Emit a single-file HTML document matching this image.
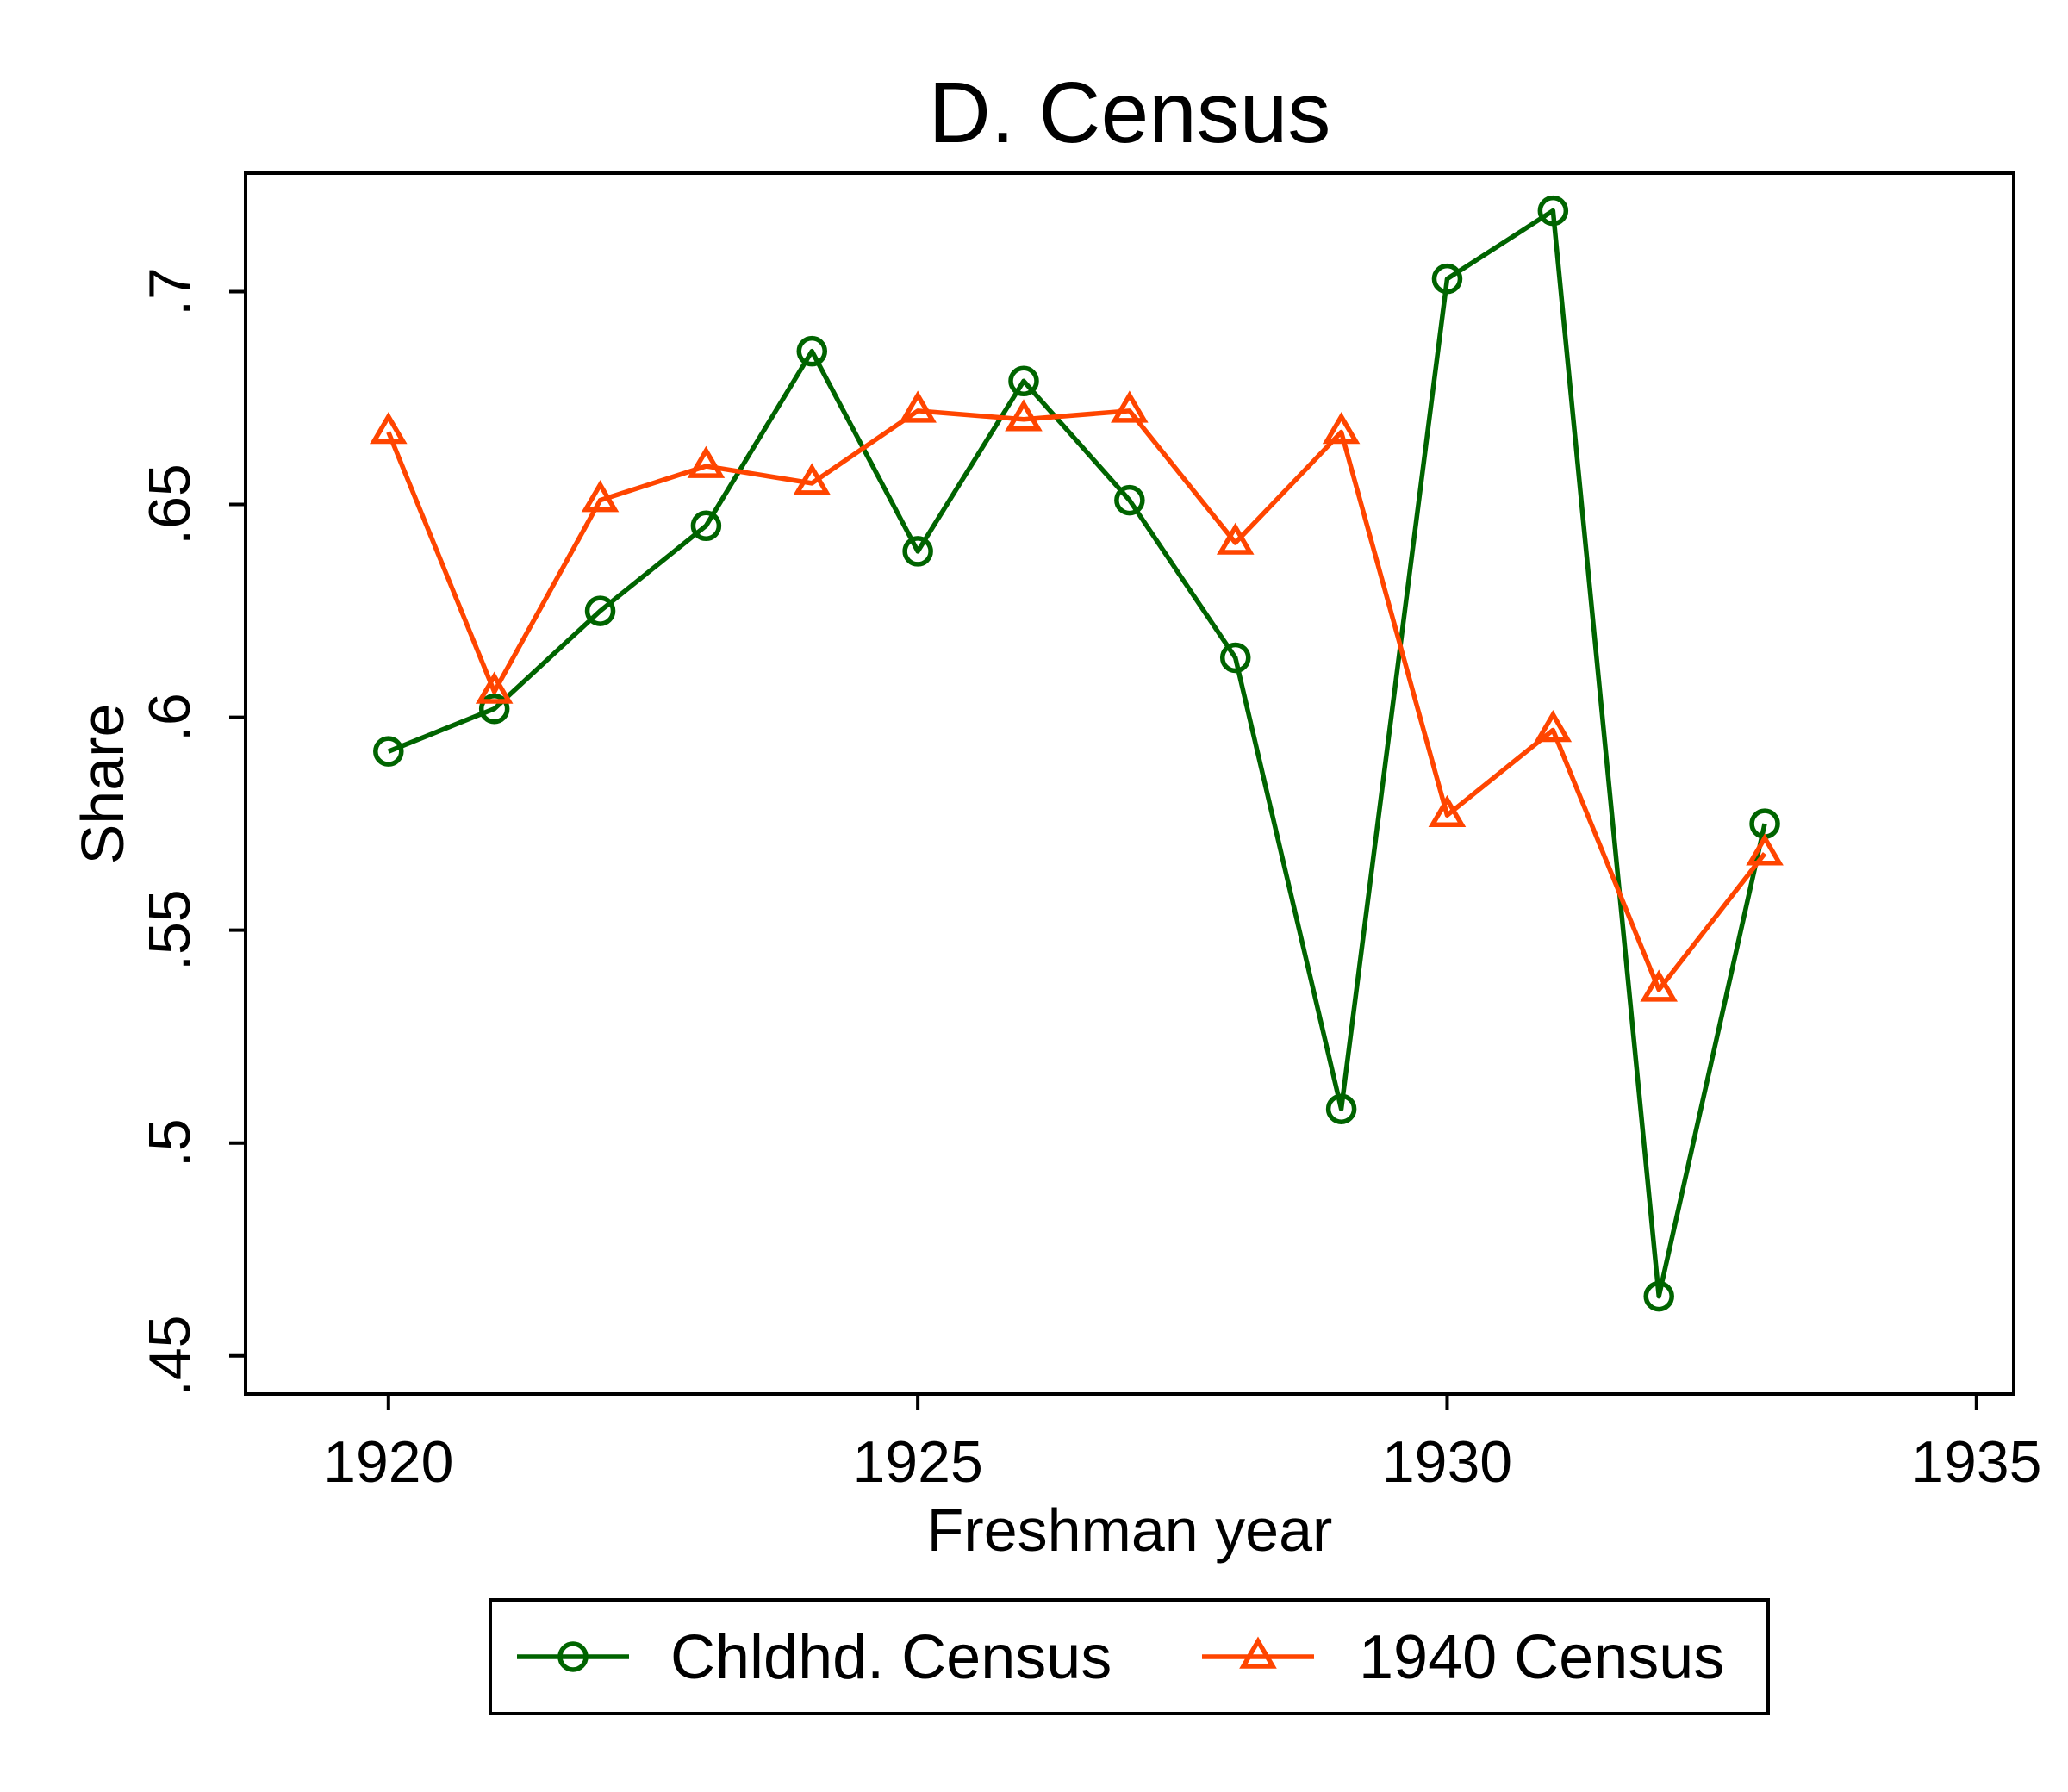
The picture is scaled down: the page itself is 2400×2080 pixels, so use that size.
<!DOCTYPE html>
<html><head><meta charset="utf-8"><style>body{margin:0;background:#fff}svg{display:block}</style></head>
<body>
<svg id="chart" width="2400" height="2080" viewBox="0 0 2400 2080" xmlns="http://www.w3.org/2000/svg" font-family="Liberation Sans, Arial, sans-serif">
<rect width="2400" height="2080" fill="#fff"/>
<text x="1311" y="165" font-size="100" text-anchor="middle">D. Census</text>
<rect x="285" y="201" width="2052" height="1417" fill="none" stroke="#000" stroke-width="4"/>
<g id="axes"></g>
<g id="series"></g>
<text x="1311" y="1800" font-size="70" text-anchor="middle">Freshman year</text>
<text transform="translate(143,910) rotate(-90)" font-size="70" text-anchor="middle">Share</text>
<g>
<rect x="569" y="1857" width="1483" height="132" fill="#fff" stroke="#000" stroke-width="4"/>
<line x1="600" y1="1923" x2="730" y2="1923" stroke="#006400" stroke-width="5.5"/>
<circle cx="665" cy="1923" r="15" fill="none" stroke="#006400" stroke-width="5.5"/>
<text x="778" y="1948" font-size="72">Chldhd. Census</text>
<line x1="1395" y1="1923" x2="1525" y2="1923" stroke="#ff4500" stroke-width="5.5"/>
<polygon points="1460,1905 1477,1934 1443,1934" fill="none" stroke="#ff4500" stroke-width="5.5"/>
<text x="1577" y="1948" font-size="72">1940 Census</text>
</g>
</svg>
<script>
const years=[1920,1921,1922,1923,1924,1925,1926,1927,1928,1929,1930,1931,1932,1933];
const childhood=[.592,.602,.625,.645,.686,.639,.679,.651,.614,.508,.703,.719,.464,.575];
const census1940=[.667,.606,.651,.659,.655,.672,.670,.672,.641,.667,.577,.597,.536,.568];
const xTicks=[1920,1925,1930,1935];
const yTicks=[.45,.5,.55,.6,.65,.7];
const yTickLabels=[".45",".5",".55",".6",".65",".7"];
const NS="http://www.w3.org/2000/svg";
const xs=v=>450.8+(v-1920)*(2293.8-450.8)/15;
const ys=v=>338.5+(0.7-v)*(1573.8-338.5)/0.25;
function mk(t,a,p){const e=document.createElementNS(NS,t);for(const k in a)e.setAttribute(k,a[k]);p.appendChild(e);return e;}
const ax=document.getElementById('axes');
xTicks.forEach(t=>{
 const l=mk('line',{x1:xs(t),x2:xs(t),y1:1618,y2:1637,stroke:'#000','stroke-width':4},ax);
 
 
 const tx=mk('text',{x:xs(t),y:1720,'font-size':68,'text-anchor':'middle'},ax);
 tx.textContent=t;
 
 
});
yTicks.forEach((t,i)=>{
 const l=mk('line',{x1:266,x2:285,y1:ys(t),y2:ys(t),stroke:'#000','stroke-width':4},ax);
 
 
 const tx=mk('text',{transform:`translate(220,${ys(t)}) rotate(-90)`,'font-size':68,'text-anchor':'middle'},ax);
 tx.textContent=yTickLabels[i];
 
 
});
const sg=document.getElementById('series');
function draw(vals,color,shape,name){
 const g=mk('g',{},sg);
 
 
 const pl=mk('polyline',{points:vals.map((v,i)=>xs(years[i])+','+ys(v)).join(' '),fill:'none',stroke:color,'stroke-width':5.5,'stroke-linejoin':'round'},g);
 
 
 vals.forEach((v,i)=>{
  const x=xs(years[i]),y=ys(v);let m;
  if(shape==='c')m=mk('circle',{cx:x,cy:y,r:15,fill:'none',stroke:color,'stroke-width':5.5},g);
  else m=mk('polygon',{points:`${x},${y-18} ${x+17},${y+11} ${x-17},${y+11}`,fill:'none',stroke:color,'stroke-width':5.5},g);
  
  
 });
}
draw(childhood,'#006400','c','childhood-census');
draw(census1940,'#ff4500','t','census-1940');
</script>
</body></html>
